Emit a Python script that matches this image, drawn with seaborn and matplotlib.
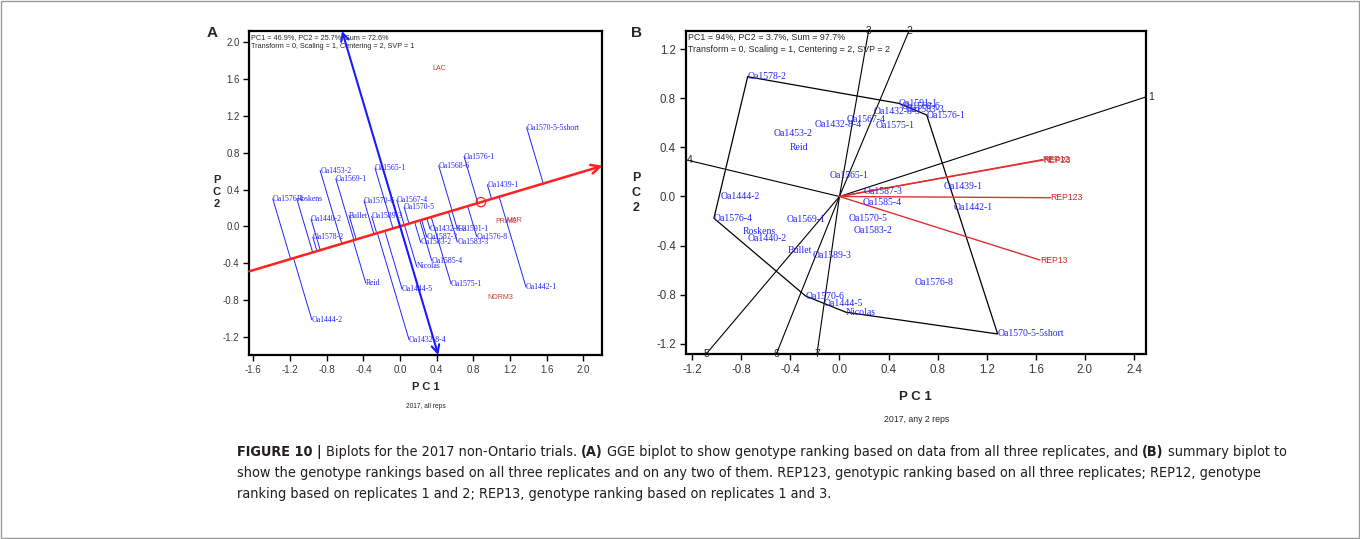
import matplotlib
matplotlib.use("Agg")
import matplotlib.pyplot as plt
import numpy as np
import pandas as pd
import seaborn as sns
from matplotlib.patches import Rectangle

# ---- panel A: GGE biplot, 2017, all reps ----
geno_a = ["Oa1453-2", "Oa1569-1", "Oa1565-1", "Oa1576-4", "Roskens", "Oa1570-6",
          "Oa1567-4", "Oa1440-2", "Bullet", "Oa1589-3", "Oa1578-2", "Reid",
          "Oa1444-2", "Oa1444-5", "Oa1432-8-4", "Oa1570-5", "Oa1568-6", "Oa1576-1",
          "Oa1439-1", "Oa1570-5-5short", "Oa1432-8-3", "Oa1591-1", "Oa1587-3",
          "Oa1583-2", "Oa1583-3", "Oa1576-8", "Oa1585-4", "Nicolas", "Oa1575-1",
          "Oa1442-1"]
pc1_a = [-0.872, -0.701, -0.273, -1.389, -1.127, -0.393,
         -0.036, -0.971, -0.556, -0.309, -0.952, -0.374,
         -0.963, 0.022, 0.098, 0.044, 0.422, 0.698,
         0.952, 1.381, 0.327, 0.625, 0.291,
         0.225, 0.625, 0.836, 0.345, 0.182, 0.556,
         1.374]
pc2_a = [0.607, 0.516, 0.633, 0.299, 0.299, 0.277,
         0.287, 0.078, 0.117, 0.107, -0.118, -0.618,
         -1.016, -0.683, -1.234, 0.209, 0.658, 0.759,
         0.454, 1.074, -0.030, -0.030, -0.118,
         -0.176, -0.172, -0.111, -0.372, -0.437, -0.625,
         -0.661]
env_a = ["LAC", "PRIM2", "MAR", "NORM3"]
env_pc1_a = [0.356, 1.043, 1.156, 0.952]
env_pc2_a = [1.712, 0.052, 0.063, -0.774]
avg_env_a = [0.883, 0.263]
xlim_a = (-1.645, 2.2)
ylim_a = (-1.40, 2.125)
xticks_a = [-1.6, -1.2, -0.8, -0.4, 0.0, 0.4, 0.8, 1.2, 1.6, 2.0]
yticks_a = [-1.2, -0.8, -0.4, 0.0, 0.4, 0.8, 1.2, 1.6, 2.0]
stats_a = ["PC1 = 46.9%, PC2 = 25.7%, Sum = 72.6%",
           "Transform = 0, Scaling = 1, Centering = 2, SVP = 1"]

# ---- panel B: summary biplot, 2017, any 2 reps ----
geno_b = ["Oa1578-2", "Oa1453-2", "Reid", "Oa1432-8-4", "Oa1567-4", "Oa1565-1",
          "Oa1444-2", "Oa1576-4", "Oa1569-1", "Roskens", "Oa1440-2", "Bullet",
          "Oa1589-3", "Oa1570-6", "Oa1444-5", "Nicolas", "Oa1570-5-5short",
          "Oa1576-1", "Oa1591-1", "Oa1432-8-3", "Oa1568-6", "Oa1583-3",
          "Oa1575-1", "Oa1587-3", "Oa1585-4", "Oa1570-5", "Oa1583-2",
          "Oa1439-1", "Oa1442-1", "Oa1576-8"]
pc1_b = [-0.748, -0.539, -0.403, -0.205, 0.062, -0.077,
         -0.966, -1.023, -0.430, -0.789, -0.751, -0.422,
         -0.218, -0.276, -0.132, 0.053, 1.289,
         0.711, 0.485, 0.276, 0.509, 0.542,
         0.295, 0.194, 0.189, 0.072, 0.113,
         0.846, 0.928, 0.610]
pc2_b = [0.975, 0.514, 0.397, 0.582, 0.625, 0.167,
         0.004, -0.177, -0.191, -0.281, -0.343, -0.443,
         -0.481, -0.810, -0.869, -0.942, -1.119,
         0.663, 0.758, 0.688, 0.736, 0.712,
         0.574, 0.039, -0.047, -0.177, -0.273,
         0.080, -0.088, -0.698]
hull_b = ["Oa1578-2", "Oa1591-1", "Oa1576-1", "Oa1570-5-5short", "Nicolas",
          "Oa1570-6", "Oa1576-4"]
ray_labels_b = ["3", "2", "1", "7", "6", "5", "4"]
rep_b = ["REP12", "REP23", "REP123", "REP13"]
rep_pc1_b = [1.655, 1.661, 1.721, 1.634]
rep_pc2_b = [0.300, 0.297, -0.010, -0.517]
xlim_b = (-1.253, 2.498)
ylim_b = (-1.282, 1.347)
xticks_b = [-1.2, -0.8, -0.4, 0.0, 0.4, 0.8, 1.2, 1.6, 2.0, 2.4]
yticks_b = [-1.2, -0.8, -0.4, 0.0, 0.4, 0.8, 1.2]
stats_b = ["PC1 = 94%, PC2 = 3.7%, Sum = 97.7%",
           "Transform = 0, Scaling = 1, Centering = 2, SVP = 2"]

caption = [
    [("FIGURE 10 |", True), ("Biplots for the 2017 non-Ontario trials.", False), ("(A)", True),
     ("GGE biplot to show genotype ranking based on data from all three replicates, and", False),
     ("(B)", True), ("summary biplot to", False)],
    [("show the genotype rankings based on all three replicates and on any two of them. "
      "REP123, genotypic ranking based on all three replicates; REP12, genotype", False)],
    [("ranking based on replicates 1 and 2; REP13, genotype ranking based on replicates 1 and 3.", False)],
]

sns.set_style("white")
plt.rcParams["font.family"] = ["Liberation Sans", "DejaVu Sans"]
plt.rcParams["axes.unicode_minus"] = False

W, H = 1360, 539
BLUE = "#2424ff"
RED = "#ff2020"
SERIF = ["Liberation Serif", "DejaVu Serif"]

fig = plt.figure(figsize=(W / 100, H / 100), dpi=100)
ax_a = fig.add_axes([249.3 / W, 1 - 355 / H, 352.4 / W, 324 / H])
ax_b = fig.add_axes([685.7 / W, 1 - 354 / H, 460.3 / W, 323 / H])


def style_axes(ax, xlim, ylim, xticks, yticks, size):
    ax.set_xlim(xlim)
    ax.set_ylim(ylim)
    ax.set_xticks(xticks)
    ax.set_yticks(yticks)
    ax.set_xticklabels([f"{t:.1f}" for t in xticks])
    ax.set_yticklabels([f"{t:.1f}" for t in yticks])
    for s in ax.spines.values():
        s.set_visible(True)
        s.set_color("black")
        s.set_linewidth(1.6)
    ax.tick_params(direction="out", length=4, width=1, colors="black",
                   labelcolor="#3a3a3a", labelsize=size, bottom=True, left=True, pad=3)
    ax.grid(False)
    ax.set_xlabel("")
    ax.set_ylabel("")


# ---------- panel A ----------
df_a = pd.DataFrame({"geno": geno_a, "pc1": pc1_a, "pc2": pc2_a})
u = np.array(avg_env_a) / np.linalg.norm(avg_env_a)   # average environment axis
v = np.array([-u[1], u[0]])                             # perpendicular axis

for _, r in df_a.iterrows():
    p = np.array([r.pc1, r.pc2])
    q = u * p.dot(u)
    ax_a.plot([p[0], q[0]], [p[1], q[1]], color=BLUE, lw=0.7, zorder=2)
    ax_a.text(r.pc1, r.pc2, r.geno, ha="left", va="center", fontsize=5.6,
              family=SERIF, color=BLUE, zorder=4)

for name, x, y in zip(env_a, env_pc1_a, env_pc2_a):
    ax_a.text(x, y, name, ha="left", va="center", fontsize=5, color="#d03a3a", zorder=4)

# AEC abscissa (red arrow) and ordinate (blue double arrow)
x0 = xlim_a[0]
start = u * (x0 / u[0])
end = u * (2.21 / u[0])
ax_a.annotate("", xy=end, xytext=start, annotation_clip=False, zorder=5,
              arrowprops=dict(arrowstyle="->", color=RED, lw=1.8, shrinkA=0, shrinkB=0,
                              mutation_scale=16))
top = v * (ylim_a[1] / v[1])
bot = v * (ylim_a[0] / v[1])
ax_a.annotate("", xy=bot, xytext=top, annotation_clip=False, zorder=5,
              arrowprops=dict(arrowstyle="<->", color="#1a1aff", lw=1.5, shrinkA=0, shrinkB=0,
                              mutation_scale=14))
sns.scatterplot(x=[avg_env_a[0]], y=[avg_env_a[1]], ax=ax_a, s=45, marker="o",
                facecolor="none", edgecolor=RED, linewidth=0.9, zorder=6)

style_axes(ax_a, xlim_a, ylim_a, xticks_a, yticks_a, 7)
ax_a.text(0.005, 0.981, stats_a[0], transform=ax_a.transAxes, fontsize=5.25, va="center")
ax_a.text(0.005, 0.953, stats_a[1], transform=ax_a.transAxes, fontsize=5.25, va="center")

# ---------- panel B ----------
df_b = pd.DataFrame({"geno": geno_b, "pc1": pc1_b, "pc2": pc2_b}).set_index("geno")
hull = df_b.loc[hull_b + hull_b[:1]].reset_index()
sns.lineplot(data=hull, x="pc1", y="pc2", sort=False, estimator=None, color="black",
             lw=0.9, ax=ax_b, zorder=2)

# rays from origin perpendicular to each polygon side
for i, lab in enumerate(ray_labels_b):
    a = df_b.loc[hull_b[i]].values
    b = df_b.loc[hull_b[(i + 1) % len(hull_b)]].values
    d = b - a
    n = np.array([d[1], -d[0]])
    if n.dot((a + b) / 2) < 0:
        n = -n
    ts = []
    ts.append((xlim_b[1] if n[0] > 0 else xlim_b[0]) / n[0])
    ts.append((ylim_b[1] if n[1] > 0 else ylim_b[0]) / n[1])
    t = min(ts)
    e = n * t
    ax_b.plot([0, e[0]], [0, e[1]], color="black", lw=0.8, zorder=2)
    if abs(e[0] - xlim_b[1]) < 1e-6:
        ax_b.text(e[0] + 0.02, e[1], lab, ha="left", va="center", fontsize=7.5, clip_on=False)
    elif abs(e[0] - xlim_b[0]) < 1e-6:
        ax_b.text(e[0] + 0.01, e[1], lab, ha="left", va="center", fontsize=7.5, clip_on=False)
    else:
        ax_b.text(e[0], e[1], lab, ha="center", va="center", fontsize=7.5, clip_on=False)

for name, x, y in zip(rep_b, rep_pc1_b, rep_pc2_b):
    ax_b.plot([0, x], [0, y], color="#e03030", lw=1.0, zorder=3)
    ax_b.text(x, y, name, ha="left", va="center", fontsize=6.2, color="#d02828", zorder=4)

for g, r in df_b.iterrows():
    ax_b.text(r.pc1, r.pc2, g, ha="left", va="center", fontsize=7,
              family=SERIF, color=BLUE, zorder=4)

style_axes(ax_b, xlim_b, ylim_b, xticks_b, yticks_b, 8.3)
ax_b.text(0.0056, 0.979, stats_b[0], transform=ax_b.transAxes, fontsize=6.4, va="center")
ax_b.text(0.0056, 0.944, stats_b[1], transform=ax_b.transAxes, fontsize=6.4, va="center")

# ---------- figure level text ----------
fig.text(212 / W, 1 - 33 / H, "A", fontsize=11, fontweight="bold", ha="center", va="center")
fig.text(636 / W, 1 - 33 / H, "B", fontsize=11, fontweight="bold", ha="center", va="center")
fig.text(217 / W, 1 - 192 / H, "P\nC\n2", fontsize=8, fontweight="bold", ha="center",
         va="center", linespacing=1.3)
fig.text(636 / W, 1 - 193 / H, "P\nC\n2", fontsize=9, fontweight="bold", ha="center",
         va="center", linespacing=1.33)
fig.text(426 / W, 1 - 387 / H, "P C 1", fontsize=8, fontweight="bold", ha="center", va="center")
fig.text(426 / W, 1 - 406 / H, "2017, all reps", fontsize=4.8, ha="center", va="center")
fig.text(915 / W, 1 - 397 / H, "P C 1", fontsize=9.5, fontweight="bold", ha="center", va="center")
fig.text(917 / W, 1 - 419 / H, "2017, any 2 reps", fontsize=6.3, ha="center", va="center")

# caption, drawn run by run so the bold parts sit inline
cap_font = ["DejaVu Sans"]
renderer = fig.canvas.get_renderer()


def draw_caption(size):
    made = []
    probe1 = fig.text(0, 0, "n n", fontsize=size, family=cap_font, fontstretch="condensed")
    probe2 = fig.text(0, 0, "nn", fontsize=size, family=cap_font, fontstretch="condensed")
    sp = probe1.get_window_extent(renderer).width - probe2.get_window_extent(renderer).width
    probe1.remove()
    probe2.remove()
    widths = []
    for k, runs in enumerate(caption):
        x = 237
        y = 452 + 21 * k
        for txt, bold in runs:
            t = fig.text(x / W, 1 - y / H, txt, fontsize=size, family=cap_font,
                         fontstretch="condensed",
                         fontweight="bold" if bold else "normal", ha="left", va="center",
                         color="#231f20")
            made.append(t)
            x = t.get_window_extent(renderer).x1 + sp
        widths.append(x - sp - 237)
    return made, widths


made, widths = draw_caption(10)
scale = 1053 / widths[0]
for t in made:
    t.remove()
draw_caption(10 * scale)

fig.patches.append(Rectangle((0.0008, 0.0015), 0.9984, 0.997, transform=fig.transFigure,
                             fill=False, edgecolor="#9a9a9a", lw=1))

fig.savefig("out.png", dpi=100)
